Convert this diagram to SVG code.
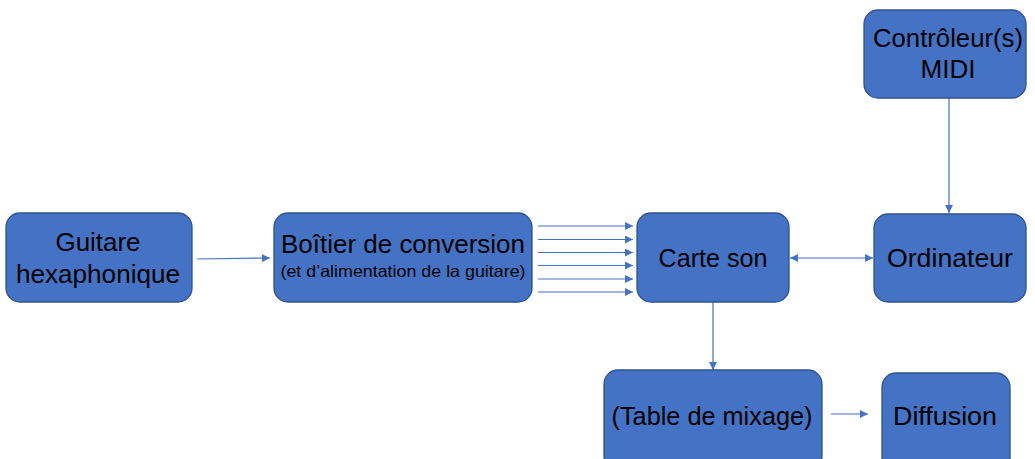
<svg xmlns="http://www.w3.org/2000/svg" width="1035" height="459" viewBox="0 0 1035 459">
<style>
.box{fill:#4472C4;stroke:#2F528F;stroke-width:1.3}
.t{font-family:"Liberation Sans","Open Sans",Arial,sans-serif;font-size:25px;fill:#000;text-anchor:middle}
.s{font-size:16.5px}
.c{stroke:#4472C4;stroke-width:1.2;fill:none}
</style>
<defs>
<marker id="ah" viewBox="0 0 10 10" refX="10" refY="5" markerWidth="8.5" markerHeight="8" markerUnits="userSpaceOnUse" orient="auto-start-reverse">
<path d="M0,0 L10,5 L0,10 z" fill="#4472C4"/>
</marker>
</defs>
<rect width="1035" height="459" fill="#fff"/>
<g id="connectors">
<line class="c" x1="197" y1="259" x2="270" y2="258" marker-end="url(#ah)"/>
<line class="c" x1="538" y1="226" x2="633" y2="226" marker-end="url(#ah)"/>
<line class="c" x1="538" y1="239.5" x2="633" y2="239.5" marker-end="url(#ah)"/>
<line class="c" x1="538" y1="252.5" x2="633" y2="252.5" marker-end="url(#ah)"/>
<line class="c" x1="538" y1="265.5" x2="633" y2="265.5" marker-end="url(#ah)"/>
<line class="c" x1="538" y1="279" x2="633" y2="279" marker-end="url(#ah)"/>
<line class="c" x1="538" y1="292" x2="633" y2="292" marker-end="url(#ah)"/>
<line class="c" x1="790" y1="258" x2="873" y2="258" marker-start="url(#ah)" marker-end="url(#ah)"/>
<line class="c" x1="949" y1="98" x2="949" y2="213" marker-end="url(#ah)"/>
<line class="c" x1="713" y1="302" x2="713" y2="370" marker-end="url(#ah)"/>
<line class="c" x1="831" y1="414" x2="868" y2="414" marker-end="url(#ah)"/>
</g>
<g id="guitare">
<rect class="box" x="6" y="213" width="186" height="89" rx="14"/>
<text class="t" x="98" y="251" textLength="85" lengthAdjust="spacingAndGlyphs">Guitare</text>
<text class="t" x="98" y="283" textLength="164" lengthAdjust="spacingAndGlyphs">hexaphonique</text>
</g>
<g id="boitier">
<rect class="box" x="274" y="213" width="258" height="89" rx="14"/>
<text class="t" x="403" y="253" textLength="244" lengthAdjust="spacingAndGlyphs">Boîtier de conversion</text>
<text class="t s" x="403" y="277" textLength="245" lengthAdjust="spacingAndGlyphs">(et d’alimentation de la guitare)</text>
</g>
<g id="carte">
<rect class="box" x="637" y="213" width="152" height="89" rx="14"/>
<text class="t" x="713" y="267" textLength="109" lengthAdjust="spacingAndGlyphs">Carte son</text>
</g>
<g id="ordinateur">
<rect class="box" x="874" y="214" width="152" height="88" rx="14"/>
<text class="t" x="950" y="267" textLength="126" lengthAdjust="spacingAndGlyphs">Ordinateur</text>
</g>
<g id="controleur">
<rect class="box" x="864" y="10" width="162" height="88" rx="14"/>
<text class="t" x="948" y="47" textLength="150" lengthAdjust="spacingAndGlyphs">Contrôleur(s)</text>
<text class="t" x="948" y="78" textLength="55" lengthAdjust="spacingAndGlyphs">MIDI</text>
</g>
<g id="table">
<rect class="box" x="604" y="370" width="218" height="100" rx="14"/>
<text class="t" x="712" y="425" textLength="201" lengthAdjust="spacingAndGlyphs">(Table de mixage)</text>
</g>
<g id="diffusion">
<rect class="box" x="882" y="373" width="128" height="100" rx="14"/>
<text class="t" x="945" y="425" textLength="104" lengthAdjust="spacingAndGlyphs">Diffusion</text>
</g>
</svg>
